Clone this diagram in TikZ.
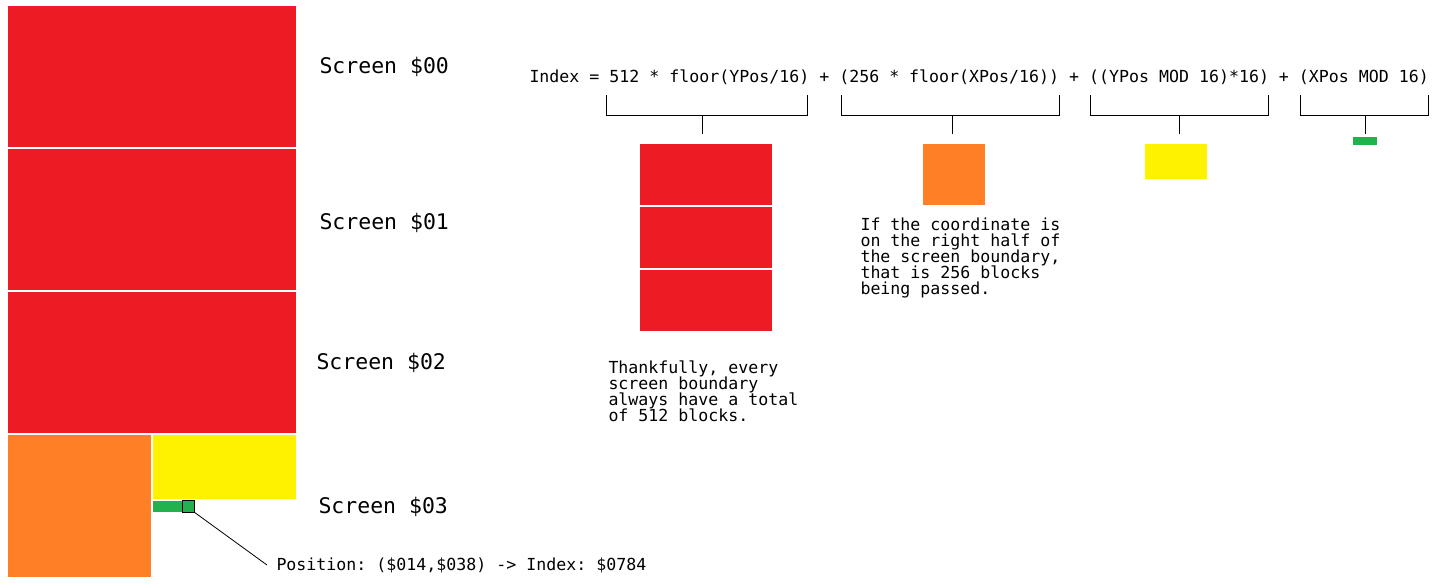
\documentclass[tikz,border=0pt]{standalone}
\usepackage{fontspec}
\setmonofont{DejaVu Sans Mono}
\usetikzlibrary{positioning, calc}

\definecolor{scrred}{HTML}{ED1C24}
\definecolor{scrorange}{HTML}{FF7F27}
\definecolor{scryellow}{HTML}{FFF200}
\definecolor{scrgreen}{HTML}{22B14C}

\newcommand{\codefont}{\ttfamily\fontsize{16.6}{16}\selectfont\setlength{\lineskiplimit}{-10pt}}

\tikzset{
    block/.style={anchor=north west, inner sep=0pt, outer sep=0pt},
    txt/.style={font=\codefont, inner sep=0pt},
    scrlabel/.style={font=\ttfamily\fontsize{21.5}{24}\selectfont, inner sep=0pt, anchor=west},
    note/.style={txt, anchor=north west, align=left},
}

\begin{document}
\begin{tikzpicture}[x=1pt, y=-1pt, line width=1pt]
    \useasboundingbox (0,0) rectangle (1444,588);
    % screens on the left
    \node[block, fill=scrred, minimum width=288pt, minimum height=141pt] (s0) at (8,6) {};
    \node[block, fill=scrred, minimum width=288pt, minimum height=141pt] (s1) at (8,149) {};
    \node[block, fill=scrred, minimum width=288pt, minimum height=141pt] (s2) at (8,292) {};
    \node[block, fill=scrorange, minimum width=143pt, minimum height=142pt] (s3o) at (8,435) {};
    \node[block, fill=scryellow, minimum width=143pt, minimum height=64pt] (s3y) at (153,435) {};
    \node[block, fill=scrgreen, minimum width=29pt, minimum height=11pt] (s3g) at (153,501) {};
    \node[block, fill=scrgreen, draw=black, minimum width=12pt, minimum height=12pt] (pos) at (182,500) {};

    \node[scrlabel] (l0) at (319,67) {Screen \$00};
    \node[scrlabel] (l1) at (319,223) {Screen \$01};
    \node[scrlabel] (l2) at (316,363) {Screen \$02};
    \node[scrlabel] (l3) at (318,507) {Screen \$03};

    \node[txt, anchor=west] (postxt) at (276,565) {Position: (\$014,\$038) -> Index: \$0784};
    \draw[line width=0.8pt] (pos.south east) -- ($(postxt.west)+(-9,0)$);

    % formula and brackets
    \node[txt, anchor=west] (formula) at (529,77) {Index = 512 * floor(YPos/16) + (256 * floor(XPos/16)) + ((YPos MOD 16)*16) + (XPos MOD 16)};
    \draw (606,95) -- (606,116) -- (807,116) -- (807,95);
    \draw (702,116) -- (702,134);
    \draw (841,95) -- (841,116) -- (1059,116) -- (1059,95);
    \draw (952,116) -- (952,134);
    \draw (1090,95) -- (1090,116) -- (1268,116) -- (1268,95);
    \draw (1179,116) -- (1179,134);
    \draw (1300,95) -- (1300,116) -- (1428,116) -- (1428,95);
    \draw (1365,116) -- (1365,134);

    % pieces
    \node[block, fill=scrred, minimum width=132pt, minimum height=61pt] (r0) at (640,144) {};
    \node[block, fill=scrred, minimum width=132pt, minimum height=61pt] (r1) at (640,207) {};
    \node[block, fill=scrred, minimum width=132pt, minimum height=61pt] (r2) at (640,270) {};
    \node[block, fill=scrorange, minimum width=62pt, minimum height=61pt] (o0) at (923,144) {};
    \node[block, fill=scryellow, minimum width=62pt, minimum height=35pt] (y0) at (1145,144) {};
    \node[block, fill=scrgreen, minimum width=24pt, minimum height=8pt] (g0) at (1353,137) {};

    \node[note] (n1) at (608,360) {Thankfully, every\\screen boundary\\always have a total\\of 512 blocks.};
    \node[note] (n2) at (860,217) {If the coordinate is\\on the right half of\\the screen boundary,\\that is 256 blocks\\being passed.};
\end{tikzpicture}
\end{document}
